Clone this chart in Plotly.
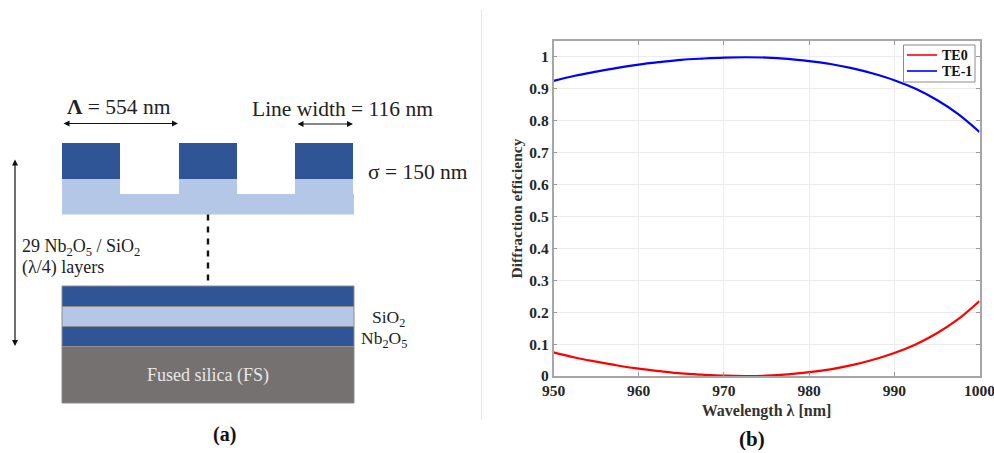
import plotly.graph_objects as go

# ---- chart (b) data ----
wavelength = [950, 952.5, 955, 957.5, 960, 962.5, 965, 967.5, 970, 972.5, 975, 977.5, 980, 982.5, 985, 987.5, 990, 992.5, 995, 997.5, 1000]
te0 = [0.074, 0.058, 0.045, 0.033, 0.023, 0.015, 0.008, 0.004, 0.001, 0.000, 0.001, 0.005, 0.012, 0.021, 0.034, 0.051, 0.072, 0.099, 0.134, 0.178, 0.235]
te_minus1 = [0.925, 0.941, 0.954, 0.966, 0.976, 0.984, 0.991, 0.995, 0.998, 0.999, 0.998, 0.994, 0.987, 0.978, 0.965, 0.948, 0.927, 0.900, 0.865, 0.821, 0.765]
x_ticks = [950, 960, 970, 980, 990, 1000]
y_ticks = [0, 0.1, 0.2, 0.3, 0.4, 0.5, 0.6, 0.7, 0.8, 0.9, 1]
y_labels = ["0", "0.1", "0.2", "0.3", "0.4", "0.5", "0.6", "0.7", "0.8", "0.9", "1"]
series_names = ["TE0", "TE-1"]
series_colors = ["#FF0000", "#0000FF"]

# ---- schematic (a), in canvas pixels on a hidden helper axis ----
DARK, LIGHT, GREY = "#2F5597", "#B4C7E7", "#767171"
ridges_dark = [(62, 120), (179, 237), (295, 353)]
ridge_span = (143, 179)
ridge_base = (179, 194)
grating_base = (62, 354, 194, 214.5)
stack = [(286, 306.5, DARK), (306.5, 326.5, LIGHT), (326.5, 346.5, DARK), (346.5, 403, GREY)]
stack_x = (62, 354)
labels = [
    (119, 107, "<b>Λ</b> = 554 nm", 21.5, "#222"),
    (342.5, 109, "Line width = 116 nm", 21.5, "#222"),
    (418, 172, "σ = 150 nm", 21.5, "#222"),
    (80.5, 247, "29 Nb<sub>2</sub>O<sub>5</sub> / SiO<sub>2</sub>", 18, "#222"),
    (63, 267, "(λ/4) layers", 18, "#222"),
    (388, 318, "SiO<sub>2</sub>", 17.5, "#222"),
    (383.5, 339, "Nb<sub>2</sub>O<sub>5</sub>", 17.5, "#222"),
    (208, 375, "Fused silica (FS)", 18, "#E8E8E8"),
    (224, 434, "<b>(a)</b>", 20, "#111"),
    (752, 439, "<b>(b)</b>", 21, "#111"),
]
arrows = [
    (62, 123.5, 178, 123.5),
    (296, 124, 353, 124),
    (15, 158, 15, 346),
]
legend_box = (903.5, 975, 45, 82)
legend_rows = [55, 71]

W, H = 994, 453
PL, PR, PT, PB = 553.5, 979.5, 41, 376
SERIF = "Liberation Serif"

fig = go.Figure()
fig.add_trace(go.Scatter(x=wavelength, y=te0, name=series_names[0], mode="lines",
                         line=dict(color=series_colors[0], width=2.2, shape="spline")))
fig.add_trace(go.Scatter(x=wavelength, y=te_minus1, name=series_names[1], mode="lines",
                         line=dict(color=series_colors[1], width=2.2, shape="spline")))
fig.add_trace(go.Scatter(x=[0, W], y=[0, H], xaxis="x2", yaxis="y2", mode="none",
                         showlegend=False, hoverinfo="skip"))

def rect(x0, x1, y0, y1, color, line=None):
    fig.add_shape(type="rect", xref="x2", yref="y2", x0=x0, x1=x1, y0=y0, y1=y1,
                  fillcolor=color, line=dict(color=line or color, width=1 if line else 0))

rect(grating_base[0], grating_base[1], grating_base[2], grating_base[3], LIGHT)
for x0, x1 in ridges_dark:
    rect(x0, x1, ridge_span[0], ridge_span[1], DARK)
    rect(x0, x1, ridge_base[0], ridge_base[1], LIGHT)
for y0, y1, color in stack:
    rect(stack_x[0], stack_x[1], y0, y1, color, "#8c8c8c")

fig.add_shape(type="line", xref="x2", yref="y2", x0=208, x1=208, y0=214.5, y1=286,
              line=dict(color="#111", width=2.4, dash="6px,6px"))
fig.add_shape(type="line", xref="x2", yref="y2", x0=481.5, x1=481.5, y0=10, y1=420,
              line=dict(color="#e6e6e6", width=1))

for x0, y0, x1, y1 in arrows:
    fig.add_annotation(x=x1, y=y1, ax=x0, ay=y0, xref="x2", yref="y2", axref="x2", ayref="y2",
                       text="", showarrow=True, arrowside="end+start", arrowhead=2,
                       arrowsize=1, arrowwidth=1.2, arrowcolor="#111")

for x, y, text, size, color in labels:
    fig.add_annotation(x=x, y=y, xref="x2", yref="y2", text=text, showarrow=False,
                       font=dict(family=SERIF, size=size, color=color))

# compact legend box, tighter than the built-in legend allows
rect(legend_box[0], legend_box[1], legend_box[2], legend_box[3], "white", "#8c8c8c")
for y, name, color in zip(legend_rows, series_names, series_colors):
    fig.add_shape(type="line", xref="x2", yref="y2", x0=907, x1=937, y0=y, y1=y,
                  line=dict(color=color, width=1.6))
    fig.add_annotation(x=940, y=y, xref="x2", yref="y2", xanchor="left", text="<b>%s</b>" % name,
                       showarrow=False, font=dict(family=SERIF, size=14, color="#111"))

fig.update_layout(
    width=W, height=H, autosize=False,
    margin=dict(l=0, r=0, t=0, b=0),
    paper_bgcolor="white", plot_bgcolor="rgba(0,0,0,0)",
    font=dict(family=SERIF, color="#262626"),
    showlegend=False,
    xaxis=dict(domain=[PL / W, PR / W], range=[950, 1000], tickvals=x_ticks, automargin=False,
               ticklabeloverflow="allow",
               ticks="inside", ticklen=4, tickcolor="#9a9a9a", showline=True, mirror="ticks",
               linecolor="#a6a6a6", linewidth=1.5, gridcolor="#ececec", zeroline=False,
               tickfont=dict(family=SERIF, size=15.5, color="#262626", weight="bold"),
               title=dict(text="<b>Wavelength λ [nm]</b>", font=dict(family=SERIF, size=16, color="#333"), standoff=6)),
    yaxis=dict(domain=[(H - PB) / H, (H - PT) / H], range=[0, 1.05], tickvals=y_ticks, ticktext=y_labels,
               automargin=False,
               ticks="inside", ticklen=4, tickcolor="#9a9a9a", showline=True, mirror="ticks",
               linecolor="#a6a6a6", linewidth=1.5, gridcolor="#ececec", zeroline=False,
               tickfont=dict(family=SERIF, size=15.5, color="#262626", weight="bold"),
               title=dict(text="<b>Diffraction efficiency</b>", font=dict(family=SERIF, size=15.5, color="#333"), standoff=3)),
    xaxis2=dict(domain=[0, 1], range=[0, W], visible=False, anchor="y2", fixedrange=True),
    yaxis2=dict(domain=[0, 1], range=[H, 0], visible=False, anchor="x2", fixedrange=True),
)

fig.write_html("out.html", config={"displayModeBar": False},
               post_script="document.body.style.margin='0';document.documentElement.style.overflow='hidden';")
